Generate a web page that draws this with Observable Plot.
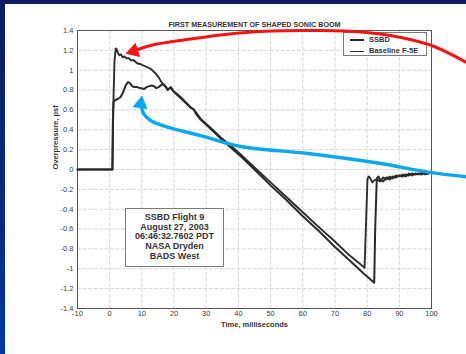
<!DOCTYPE html>
<html><head><meta charset="utf-8">
<script src="https://cdn.jsdelivr.net/npm/d3@7"></script>
<script src="https://cdn.jsdelivr.net/npm/@observablehq/plot@0.6"></script>
<style>
html,body{margin:0;padding:0;}
body{width:466px;height:354px;overflow:hidden;position:relative;background:linear-gradient(#0b1f5f,#0a2a80 60%,#0036a8);font-family:"Liberation Sans",Arial,sans-serif;}
#wrap{position:absolute;left:5px;top:4px;width:461px;height:350px;background:#fff;overflow:visible;}
#wrap svg{position:absolute;left:0;top:0;overflow:visible;}
#legend{position:absolute;left:338px;top:28px;width:84px;height:24px;border:1px solid #7a7a7a;background:#fff;box-sizing:border-box;}
#legend .row{position:absolute;left:0;height:10px;width:84px;}
#legend .sw{position:absolute;left:6px;top:4.5px;width:14px;background:#2b2b2b;}
#legend .lab{position:absolute;left:25px;top:0;font-size:7.5px;font-weight:bold;line-height:10px;color:#333;white-space:nowrap;}
#note{position:absolute;left:120px;top:204px;width:99px;height:59px;border:1px solid #7a7a7a;background:#fff;box-sizing:border-box;text-align:center;font-size:9px;font-weight:bold;line-height:9.7px;padding-top:4px;color:#333;}
</style>
</head><body>
<div id="wrap"></div>
<script>
// ---- data ----
const xTicks = [-10, 0, 10, 20, 30, 40, 50, 60, 70, 80, 90, 100];
const yTicks = [-1.4, -1.2, -1, -0.8, -0.6, -0.4, -0.2, 0, 0.2, 0.4, 0.6, 0.8, 1, 1.2, 1.4];
const seriesNames = ["SSBD", "Baseline F-5E"];
const noteLines = ["SSBD Flight 9", "August 27, 2003", "06:46:32.7602 PDT", "NASA Dryden", "BADS West"];
const titleText = "FIRST MEASUREMENT OF SHAPED SONIC BOOM";
const xLabel = "Time, milliseconds";
const yLabel = "Overpressure, psf";

const baselineTime = [-10, 0.9, 1.1, 1.5, 1.9, 2.2, 2.6, 3.0, 3.5, 4.0, 4.6, 5.2, 6.0, 6.6, 7.5, 8.5, 9.7, 11, 12.9, 14.2, 15.2, 15.9, 16.6, 18, 19, 20, 22, 24, 25.2, 26, 26.8, 28.3, 31, 34.6, 37.7, 40.8, 45, 50, 55, 60, 65, 69.8, 74, 77, 79.2, 79.6, 80.1, 80.5, 81, 81.6, 82.2, 83, 84, 85, 86, 87, 88, 89, 90, 91, 92, 93, 94, 95, 96, 97, 98, 99];
const baselinePsf  = [0, 0, 0.6, 1.1, 1.22, 1.21, 1.17, 1.15, 1.16, 1.13, 1.14, 1.12, 1.12, 1.10, 1.10, 1.07, 1.06, 1.04, 1.01, 0.97, 0.93, 0.89, 0.86, 0.81, 0.82, 0.78, 0.72, 0.66, 0.62, 0.61, 0.575, 0.51, 0.43, 0.32, 0.24, 0.15, 0.02, -0.13, -0.28, -0.43, -0.58, -0.72, -0.85, -0.93, -0.99, -0.6, -0.1, -0.07, -0.09, -0.13, -0.11, -0.10, -0.12, -0.08, -0.10, -0.07, -0.09, -0.06, -0.07, -0.05, -0.07, -0.04, -0.06, -0.04, -0.05, -0.03, -0.05, -0.04];

const ssbdTime = [-10, 0.8, 1.0, 1.2, 1.8, 2.5, 3.4, 4.2, 5.0, 5.7, 6.3, 7.0, 7.6, 8.5, 9.5, 10.7, 11.5, 12.3, 12.9, 13.7, 14.5, 15.2, 16.0, 16.6, 17.3, 18, 19, 19.8, 22, 24, 25.2, 26.2, 26.8, 28.3, 31, 34.6, 37.7, 40.8, 45, 50, 55, 60, 65, 70, 75, 79, 82.2, 82.5, 83, 83.5, 84.2, 85, 86, 87, 88, 89, 90, 91, 92, 93, 94, 95, 96, 97, 98, 99];
const ssbdPsf  = [0, 0, 0.5, 0.68, 0.70, 0.71, 0.73, 0.78, 0.85, 0.88, 0.87, 0.84, 0.83, 0.83, 0.82, 0.81, 0.83, 0.84, 0.845, 0.84, 0.82, 0.83, 0.85, 0.86, 0.84, 0.80, 0.83, 0.79, 0.73, 0.665, 0.625, 0.60, 0.56, 0.50, 0.42, 0.31, 0.22, 0.13, 0.0, -0.16, -0.31, -0.47, -0.62, -0.78, -0.93, -1.05, -1.14, -0.6, -0.09, -0.07, -0.11, -0.12, -0.08, -0.10, -0.07, -0.08, -0.06, -0.07, -0.05, -0.06, -0.04, -0.05, -0.04, -0.05, -0.03, -0.04];

// annotation arrows (data units)
const redArrowTime = [113, 100.79, 90.52, 78.07, 64.69, 50.07, 38.56, 25.17, 12.73, 7.47];
const redArrowPsf  = [1.04, 1.239, 1.329, 1.385, 1.400, 1.395, 1.370, 1.314, 1.249, 1.192];
const blueArrowTime = [112.95, 98.92, 84.30, 61.58, 40.73, 28.29, 18.02, 12.73, 10.55, 9.65];
const blueArrowPsf  = [-0.081, -0.027, 0.060, 0.161, 0.232, 0.342, 0.426, 0.494, 0.564, 0.661];

const baseline = baselineTime.map((t, i) => ({t, p: baselinePsf[i]}));
const ssbd = ssbdTime.map((t, i) => ({t, p: ssbdPsf[i]}));
const redArrow = redArrowTime.map((t, i) => ({t, p: redArrowPsf[i]}));
const blueArrow = blueArrowTime.map((t, i) => ({t, p: blueArrowPsf[i]}));

const common = {
  width: 461, height: 350,
  marginLeft: 72, marginRight: 35, marginTop: 26, marginBottom: 46,
};
const font = '"Liberation Sans", Arial, sans-serif';

const chart = Plot.plot({
  ...common,
  style: {background: "transparent", fontFamily: font, fontSize: "7.5px", color: "#3a3a3a", overflow: "visible"},
  x: {domain: [-10, 100], ticks: xTicks, tickSize: 0, tickPadding: 2, label: null, tickFormat: d => String(d)},
  y: {domain: [-1.4, 1.4], ticks: yTicks, tickSize: 0, tickPadding: 4, label: null, tickFormat: d => String(+(+d).toFixed(1))},
  marks: [
    Plot.ruleX(xTicks, {stroke: "#d6d6d6", strokeWidth: 1, strokeDasharray: "4,1.5"}),
    Plot.ruleY(yTicks, {stroke: "#d6d6d6", strokeWidth: 1, strokeDasharray: "4,1.5"}),
    Plot.frame({stroke: "#555", strokeWidth: 1}),
    Plot.line(baseline, {x: "t", y: "p", stroke: "#2e2e2e", strokeWidth: 1.9}),
    Plot.line(ssbd, {x: "t", y: "p", stroke: "#2a2a2a", strokeWidth: 2}),
    Plot.text([titleText], {frameAnchor: "top", dy: -9, text: d => d, fontWeight: "bold", fontSize: 7.2, fill: "#333"}),
    Plot.text([xLabel], {frameAnchor: "bottom", dy: 18, text: d => d, fontWeight: "bold", fontSize: 7.5, fill: "#333"}),
    Plot.text([yLabel], {frameAnchor: "left", dx: -22, rotate: -90, text: d => d, fontWeight: "bold", fontSize: 7.5, fill: "#333"})
  ]
});

const overlay = Plot.plot({
  ...common,
  style: {background: "transparent", overflow: "visible"},
  x: {domain: [-10, 100], axis: null},
  y: {domain: [-1.4, 1.4], axis: null},
  marks: [
    Plot.line(redArrow, {x: "t", y: "p", stroke: "#f21414", strokeWidth: 3, curve: "catmull-rom"}),
    Plot.dot(redArrow.slice(-1), {x: "t", y: "p", symbol: "triangle", r: 5.6, fill: "#f21414", stroke: "none", rotate: -108}),
    Plot.line(blueArrow, {x: "t", y: "p", stroke: "#0ca6ea", strokeWidth: 3.4, curve: "catmull-rom"}),
    Plot.dot(blueArrow.slice(-1), {x: "t", y: "p", symbol: "triangle", r: 5.6, fill: "#0ca6ea", stroke: "none", rotate: 9})
  ]
});

const wrap = document.getElementById("wrap");
wrap.appendChild(chart);

// legend
const legend = document.createElement("div");
legend.id = "legend";
seriesNames.forEach((name, i) => {
  const row = document.createElement("div");
  row.className = "row";
  row.style.top = (1.5 + i * 11.5) + "px";
  const sw = document.createElement("div");
  sw.className = "sw";
  sw.style.height = (i === 0 ? 2 : 1.6) + "px";
  const lab = document.createElement("span");
  lab.className = "lab";
  lab.textContent = name;
  row.appendChild(sw); row.appendChild(lab);
  legend.appendChild(row);
});
wrap.appendChild(legend);

// note box
const note = document.createElement("div");
note.id = "note";
note.innerHTML = noteLines.map(s => `<div>${s}</div>`).join("");
wrap.appendChild(note);

wrap.appendChild(overlay);
</script>
</body></html>
